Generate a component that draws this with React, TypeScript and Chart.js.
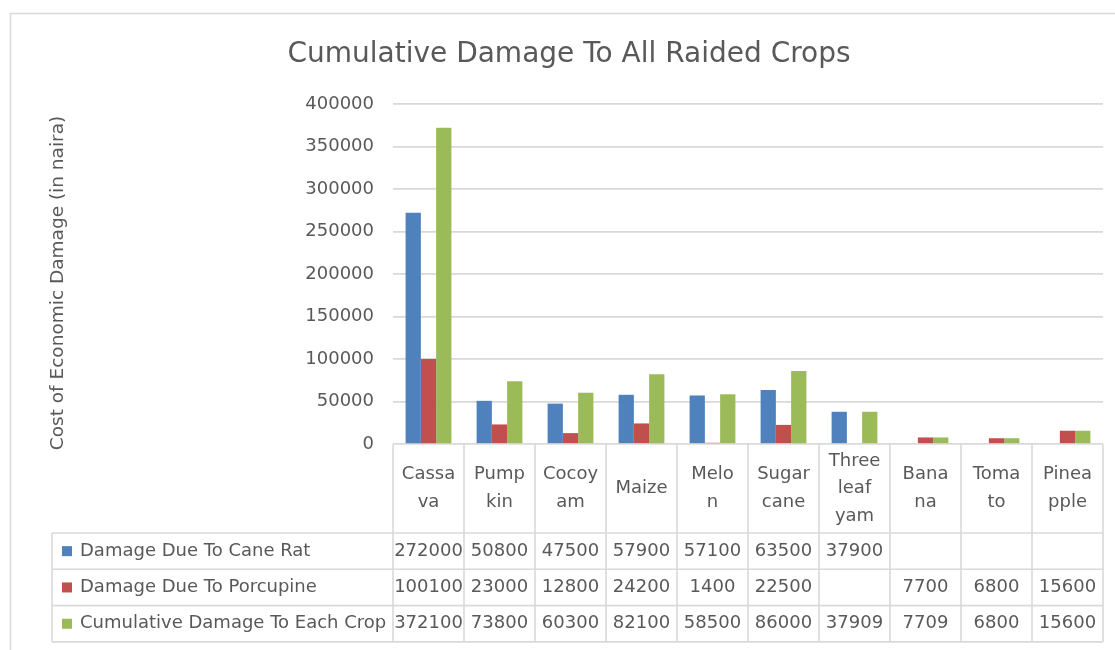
import React, { useEffect, useRef } from "react";
import { Chart, registerables } from "chart.js";

Chart.register(...registerables);

const chartTitle = "Cumulative Damage To All Raided Crops";
const yAxisTitle = "Cost of Economic Damage (in naira)";

const categoryLines: string[][] = [
  ["Cassa", "va"],
  ["Pump", "kin"],
  ["Cocoy", "am"],
  ["Maize"],
  ["Melo", "n"],
  ["Sugar", "cane"],
  ["Three", "leaf", "yam"],
  ["Bana", "na"],
  ["Toma", "to"],
  ["Pinea", "pple"],
];

const seriesNames = [
  "Damage Due To Cane Rat",
  "Damage Due To Porcupine",
  "Cumulative Damage To Each Crop",
];

const caneRat: (number | null)[] = [272000, 50800, 47500, 57900, 57100, 63500, 37900, null, null, null];
const porcupine: (number | null)[] = [100100, 23000, 12800, 24200, 1400, 22500, null, 7700, 6800, 15600];
const cumulative: (number | null)[] = [372100, 73800, 60300, 82100, 58500, 86000, 37909, 7709, 6800, 15600];

const seriesColors = ["#4f81bd", "#c0504d", "#9bbb59"];

const yMin = 0;
const yMax = 400000;
const yStep = 50000;

const FONT = "'DejaVu Sans', sans-serif";
const TEXT = "#595959";
const LINE = "#d9d9d9";

const tablePlugin = {
  id: "excelTable",
  afterDraw(chart: any) {
    const ctx: CanvasRenderingContext2D = chart.ctx;
    const x = chart.scales.x;
    const area = chart.chartArea;
    const n = categoryLines.length;
    const colW = (x.right - x.left) / n;
    const left = x.left;
    const right = x.right;
    const top = area.bottom;
    const headerBottom = top + 89;
    const rowH = 36.3;
    const tableLeft = 52;
    const rowsBottom = headerBottom + rowH * 3;
    const allSeries = [caneRat, porcupine, cumulative];

    ctx.save();
    // outer chart border
    ctx.strokeStyle = LINE;
    ctx.lineWidth = 1.5;
    ctx.strokeRect(10.5, 13.5, 1200, 800);

    // title
    ctx.fillStyle = TEXT;
    ctx.font = `28px ${FONT}`;
    ctx.textAlign = "center";
    ctx.textBaseline = "middle";
    ctx.fillText(chartTitle, 569, 55);

    // y axis title
    ctx.save();
    ctx.translate(58, 283);
    ctx.rotate(-Math.PI / 2);
    ctx.font = `18.5px ${FONT}`;
    ctx.fillText(yAxisTitle, 0, 0);
    ctx.restore();

    // table lines
    ctx.strokeStyle = LINE;
    ctx.lineWidth = 1.6;
    ctx.beginPath();
    for (let i = 0; i <= n; i++) {
      const cx = left + colW * i;
      ctx.moveTo(cx, top);
      ctx.lineTo(cx, rowsBottom);
    }
    ctx.moveTo(tableLeft, headerBottom);
    ctx.lineTo(tableLeft, rowsBottom);
    for (let r = 0; r <= 3; r++) {
      const ry = headerBottom + rowH * r;
      ctx.moveTo(tableLeft, ry);
      ctx.lineTo(right, ry);
    }
    ctx.stroke();

    // header labels
    ctx.fillStyle = TEXT;
    ctx.font = `18px ${FONT}`;
    ctx.textAlign = "center";
    ctx.textBaseline = "middle";
    const lh = 27.5;
    const hc = (top + headerBottom) / 2;
    for (let i = 0; i < n; i++) {
      const cx = x.getPixelForValue(i);
      const lines = categoryLines[i];
      const start = hc - ((lines.length - 1) * lh) / 2;
      lines.forEach((ln, k) => ctx.fillText(ln, cx, start + k * lh));
    }

    // rows
    for (let r = 0; r < 3; r++) {
      const cy = headerBottom + rowH * r + rowH / 2;
      ctx.fillStyle = seriesColors[r];
      ctx.fillRect(62, cy - 5, 10, 10);
      ctx.fillStyle = TEXT;
      ctx.textAlign = "left";
      ctx.fillText(seriesNames[r], 80, cy);
      ctx.textAlign = "center";
      allSeries[r].forEach((v, i) => {
        if (v === null) return;
        ctx.fillText(String(v), x.getPixelForValue(i), cy);
      });
    }
    ctx.restore();
  },
};

export default function App() {
  const ref = useRef<HTMLCanvasElement | null>(null);
  useEffect(() => {
    if (!ref.current) return;
    const chart = new Chart(ref.current, {
      type: "bar",
      data: {
        labels: categoryLines.map((l) => l.join("")),
        datasets: [caneRat, porcupine, cumulative].map((d, i) => ({
          label: seriesNames[i],
          data: d,
          backgroundColor: seriesColors[i],
          borderWidth: 0,
          categoryPercentage: 0.645,
          barPercentage: 1,
        })),
      },
      options: {
        responsive: false,
        animation: false,
        devicePixelRatio: 1,
        layout: { padding: { top: 104, bottom: 206, left: 0, right: 12 } },
        plugins: {
          legend: { display: false },
          tooltip: { enabled: false },
          title: { display: false },
        },
        scales: {
          x: { display: false },
          y: {
            min: yMin,
            max: yMax,
            afterFit: (s: any) => {
              s.width = 393;
            },
            ticks: {
              stepSize: yStep,
              padding: 19,
              color: TEXT,
              font: { family: FONT, size: 18 },
              callback: (v: any) => String(v),
            },
            grid: { color: LINE, lineWidth: 1.7, drawTicks: false },
            border: { display: false },
          },
        },
      },
      plugins: [tablePlugin],
    });
    return () => chart.destroy();
  }, []);
  return (
    <div style={{ position: "absolute", left: 0, top: 0, width: 1115, height: 650, background: "#fff" }}>
      <canvas ref={ref} width={1115} height={650} />
    </div>
  );
}
